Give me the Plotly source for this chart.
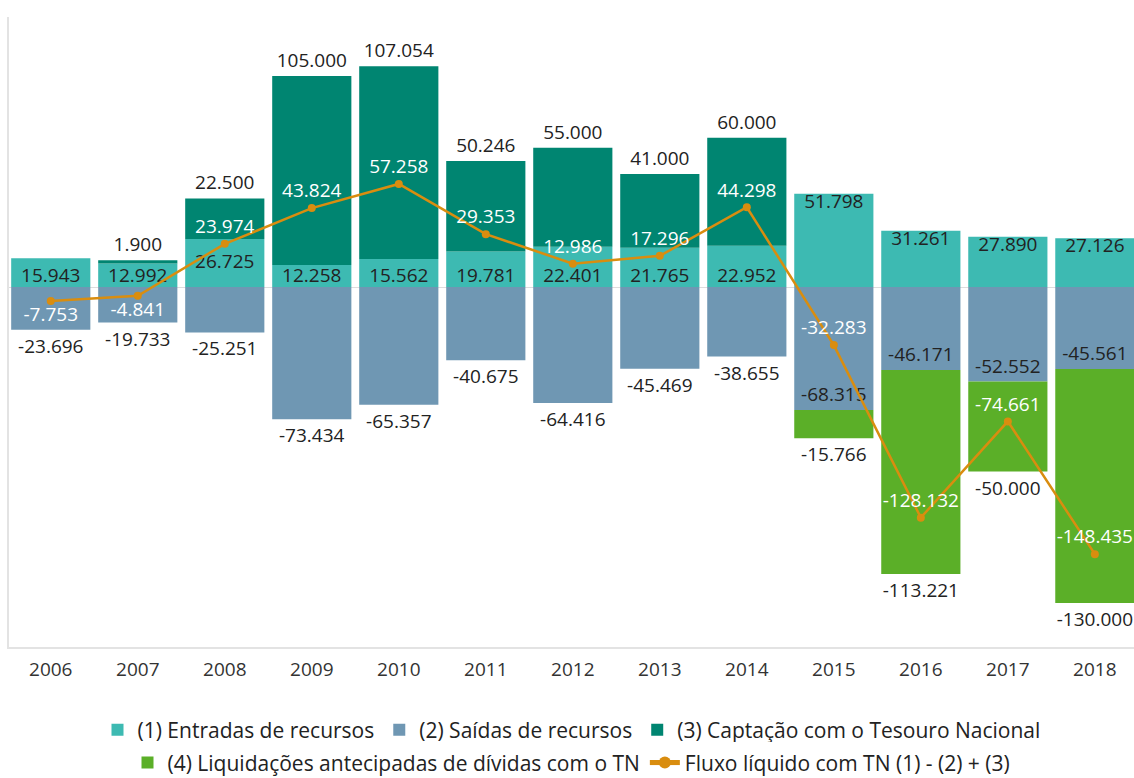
import plotly.graph_objects as go

years = ["2006", "2007", "2008", "2009", "2010", "2011", "2012",
         "2013", "2014", "2015", "2016", "2017", "2018"]
entradas = [15943, 12992, 26725, 12258, 15562, 19781, 22401,
            21765, 22952, 51798, 31261, 27890, 27126]
saidas = [-23696, -19733, -25251, -73434, -65357, -40675, -64416,
          -45469, -38655, -68315, -46171, -52552, -45561]
captacao = [None, 1900, 22500, 105000, 107054, 50246, 55000,
            41000, 60000, None, None, None, None]
liquidacoes = [None, None, None, None, None, None, None,
               None, None, -15766, -113221, -50000, -130000]
fluxo = [-7753, -4841, 23974, 43824, 57258, 29353, 12986,
         17296, 44298, -32283, -128132, -74661, -148435]

names = ["(1) Entradas de recursos", "(2) Saídas de recursos",
         "(3) Captação com o Tesouro Nacional",
         "(4) Liquidações antecipadas de dívidas com o TN",
         "Fluxo líquido com TN (1) - (2) + (3)"]

# where the label of (1) sits in its bar: near the base, middle or top
ent_label_at = ["base", "base", "mid", "base", "base", "base", "base",
                "base", "base", "top", "top", "top", "top"]

C_ENT = "#3DBAB2"
C_SAI = "#6F97B3"
C_CAP = "#008571"
C_LIQ = "#5BAF28"
C_FLX = "#D98D0F"

FONT = "Open Sans"
FS = 19
LFS = 21


def fmt(v):
    if v is None:
        return ""
    return format(v, ",").replace(",", ".")


fig = go.Figure()

fig.add_trace(go.Bar(
    x=years, y=entradas, name=names[0], marker_color=C_ENT,
    marker_line_width=0, textposition="none",
    legend="legend"))

sai_pos = ["inside" if l is not None else "outside" for l in liquidacoes]
fig.add_trace(go.Bar(
    x=years, y=saidas, name=names[1], marker_color=C_SAI,
    marker_line_width=0,
    text=[fmt(v) for v in saidas], textposition=sai_pos,
    insidetextanchor="end",
    textfont=dict(color="#222222", size=FS, family=FONT),
    legend="legend"))

fig.add_trace(go.Bar(
    x=years, y=captacao, name=names[2], marker_color=C_CAP,
    marker_line_width=0,
    text=[fmt(v) for v in captacao], textposition="outside",
    textfont=dict(color="#222222", size=FS, family=FONT),
    legend="legend"))

fig.add_trace(go.Bar(
    x=years, y=liquidacoes, name=names[3], marker_color=C_LIQ,
    marker_line_width=0,
    text=[fmt(v) for v in liquidacoes], textposition="outside",
    textfont=dict(color="#222222", size=FS, family=FONT),
    legend="legend2"))

# labels of (1) Entradas, placed inside their bars
ent_y = {"base": lambda v: 0, "mid": lambda v: v / 2, "top": lambda v: v}
ent_tp = {"base": "top center", "mid": "middle center", "top": "bottom center"}
fig.add_trace(go.Scatter(
    x=years,
    y=[ent_y[a](v) for v, a in zip(entradas, ent_label_at)],
    mode="text",
    text=[fmt(v) for v in entradas],
    textposition=[ent_tp[a] for a in ent_label_at],
    textfont=dict(color="#222222", size=FS, family=FONT),
    showlegend=False, hoverinfo="skip", cliponaxis=False))

flx_pos = ["bottom center" if i < 2 else "top center" for i in range(len(fluxo))]
fig.add_trace(go.Scatter(
    x=years, y=fluxo, name=names[4], mode="lines+markers+text",
    line=dict(color=C_FLX, width=2.5),
    marker=dict(color=C_FLX, size=8),
    text=[fmt(v) for v in fluxo], textposition=flx_pos,
    textfont=dict(color="white", size=FS, family=FONT),
    cliponaxis=False,
    legend="legend2"))

fig.update_layout(
    width=1134, height=778,
    barmode="relative", bargap=0.09,
    paper_bgcolor="white", plot_bgcolor="white",
    margin=dict(l=9, r=0, t=17, b=131, autoexpand=False),
    font=dict(family=FONT, size=FS, color="#222222"),
    uniformtext=dict(minsize=FS, mode="show"),
    showlegend=True,
    legend=dict(orientation="h", x=0.5, xanchor="center",
                y=-0.132, yanchor="middle",
                font=dict(size=LFS, color="#222222", family=FONT),
                itemsizing="constant", traceorder="normal"),
    legend2=dict(orientation="h", x=0.5, xanchor="center",
                 y=-0.184, yanchor="middle",
                 font=dict(size=LFS, color="#222222", family=FONT),
                 itemsizing="constant", traceorder="normal"),
    xaxis=dict(range=[-0.48, 12.45], showline=True, linecolor="#e3e3e3",
               linewidth=2, ticks="", showgrid=False, automargin=False,
               ticklabelstandoff=4,
               tickfont=dict(size=FS, color="#333333", family=FONT)),
    yaxis=dict(range=[-200000, 150000], showline=True, linecolor="#e3e3e3",
               linewidth=2, showgrid=False, showticklabels=False,
               automargin=False,
               zeroline=True, zerolinecolor="#dddddd", zerolinewidth=1),
)

fig.write_html(
    "out.html",
    config={"displayModeBar": False},
    post_script="document.body.style.margin='0';"
                "document.body.style.overflow='hidden';")
